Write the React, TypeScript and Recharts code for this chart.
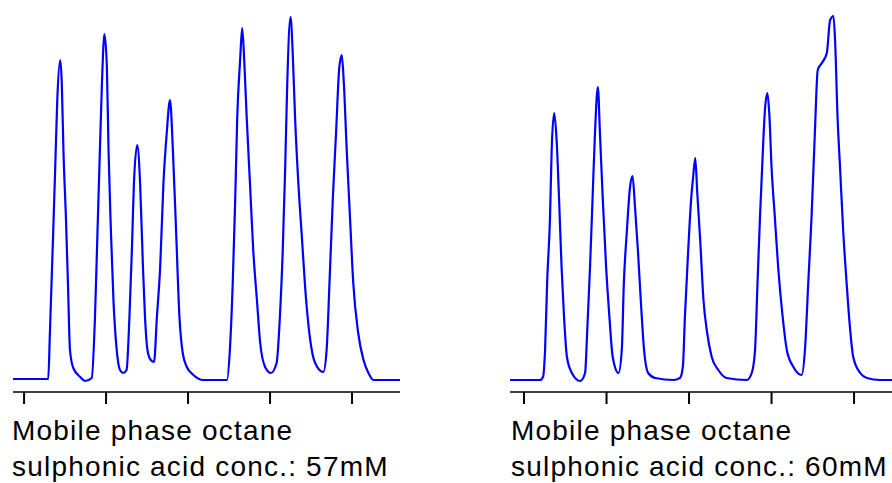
import React from 'react';
import { LineChart, Line, XAxis, YAxis } from 'recharts';

// Retention time (min) and detector signal
const leftTime = [
  1.73, 2.59, 2.63, 2.71, 2.76, 2.81, 2.88, 2.92, 2.96, 3.02, 3.07, 3.12, 3.2, 3.37, 3.49, 3.65,
  3.73, 3.79, 3.85, 3.9, 3.96, 4.02, 4.06, 4.12, 4.18, 4.26, 4.34, 4.42, 4.5, 4.57, 4.63, 4.68,
  4.76, 4.83, 4.9, 4.95, 5.01, 5.09, 5.17, 5.24, 5.32, 5.4, 5.48, 5.56, 5.63, 5.71, 5.79, 5.87,
  5.97, 6.13, 6.37, 6.95, 7.02, 7.09, 7.15, 7.2, 7.27, 7.32, 7.37, 7.43, 7.51, 7.59, 7.68, 7.76,
  7.88, 8.02, 8.16, 8.24, 8.31, 8.37, 8.42, 8.5, 8.55, 8.61, 8.69, 8.77, 8.88, 8.98, 9.1, 9.3,
  9.38, 9.45, 9.53, 9.61, 9.69, 9.75, 9.8, 9.87, 9.95, 10.03, 10.15, 10.28, 10.4, 10.52, 11.17,
];
const leftSignal = [
  1, 1, 47, 147, 213, 280, 320, 297, 230, 163, 97, 30, 12, 3, -1, 2,
  63, 147, 230, 297, 346, 313, 230, 147, 80, 30, 10, 7, 10, 63, 130, 197,
  235, 197, 113, 63, 30, 20, 18, 63, 113, 197, 247, 280, 230, 147, 63, 27,
  13, 5, 0, 0, 30, 97, 180, 263, 320, 352, 320, 263, 197, 130, 80, 37,
  13, 7, 17, 63, 130, 213, 297, 363, 330, 263, 197, 147, 80, 40, 17, 8,
  30, 97, 180, 247, 313, 325, 297, 230, 163, 97, 47, 20, 7, 0, 0,
];

const rightTime = [
  1.66, 2.39, 2.46, 2.51, 2.56, 2.63, 2.67, 2.73, 2.79, 2.85, 2.91, 2.97, 3.04, 3.16, 3.36, 3.48,
  3.53, 3.6, 3.66, 3.72, 3.79, 3.84, 3.91, 3.99, 4.07, 4.15, 4.29, 4.37, 4.42, 4.49, 4.57, 4.63,
  4.69, 4.76, 4.83, 4.91, 5.01, 5.18, 5.62, 5.78, 5.85, 5.9, 5.98, 6.05, 6.1, 6.15, 6.2, 6.27,
  6.35, 6.44, 6.55, 6.71, 6.91, 7.4, 7.52, 7.6, 7.66, 7.72, 7.78, 7.84, 7.9, 7.95, 8.0, 8.08,
  8.16, 8.27, 8.37, 8.53, 8.73, 8.81, 8.89, 8.97, 9.05, 9.12, 9.22, 9.34, 9.42, 9.5, 9.54, 9.6,
  9.66, 9.74, 9.82, 9.9, 9.98, 10.15, 10.31, 10.63, 10.92,
];
const rightSignal = [
  0, 0, 3, 30, 97, 163, 230, 267, 240, 180, 113, 63, 23, 7, -1, 7,
  47, 113, 180, 247, 293, 247, 180, 113, 63, 23, 7, 30, 97, 147, 193, 204,
  173, 130, 80, 30, 7, 2, 0, 2, 13, 63, 130, 180, 203, 222, 187, 140,
  80, 47, 23, 10, 2, 0, 7, 30, 97, 163, 220, 270, 287, 263, 213, 163,
  113, 63, 30, 13, 5, 30, 97, 163, 247, 310, 317, 327, 360, 364, 340, 263,
  213, 147, 97, 53, 23, 7, 2, 0, 0,
];

const timeTicks = [2, 4, 6, 8, 10];
const captionLine1 = 'Mobile phase octane';
const captionLeft = 'sulphonic acid conc.: 57mM';
const captionRight = 'sulphonic acid conc.: 60mM';

const leftData = leftTime.map((t, i) => ({ t, s: leftSignal[i] }));
const rightData = rightTime.map((t, i) => ({ t, s: rightSignal[i] }));

const textStyle: React.CSSProperties = {
  position: 'absolute',
  fontFamily: 'Arial, "Liberation Sans", sans-serif',
  fontSize: 28,
  lineHeight: '36px',
  letterSpacing: 1.2,
  color: '#000',
  whiteSpace: 'nowrap',
};

function Chrom({ data, domain, left, width }: { data: any[]; domain: [number, number]; left: number; width: number }) {
  return (
    <div style={{ position: 'absolute', left, top: 0 }}>
      <LineChart width={width} height={410} data={data} margin={{ top: 0, right: 0, bottom: 0, left: 0 }}>
        <XAxis
          dataKey="t"
          type="number"
          domain={domain}
          ticks={timeTicks}
          tickFormatter={() => ''}
          tickSize={12}
          height={18}
          allowDataOverflow
          axisLine={{ stroke: '#000', strokeWidth: 1.5 }}
          tickLine={{ stroke: '#000', strokeWidth: 2 }}
        />
        <YAxis hide type="number" domain={[-12, 380]} allowDataOverflow />
        <Line
          type="monotone"
          dataKey="s"
          stroke="#0000ff"
          strokeWidth={2.2}
          dot={false}
          isAnimationActive={false}
        />
      </LineChart>
    </div>
  );
}

export default function App() {
  return (
    <div style={{ position: 'absolute', left: 0, top: 0, width: 892, height: 483, background: '#fff', overflow: 'hidden' }}>
      <Chrom data={leftData} domain={[1.73, 11.17]} left={13} width={387} />
      <Chrom data={rightData} domain={[1.66, 10.92]} left={510} width={382} />
      <div style={{ ...textStyle, left: 12, top: 413 }}>
        {captionLine1}
        <br />
        {captionLeft}
      </div>
      <div style={{ ...textStyle, left: 511, top: 413 }}>
        {captionLine1}
        <br />
        {captionRight}
      </div>
    </div>
  );
}
